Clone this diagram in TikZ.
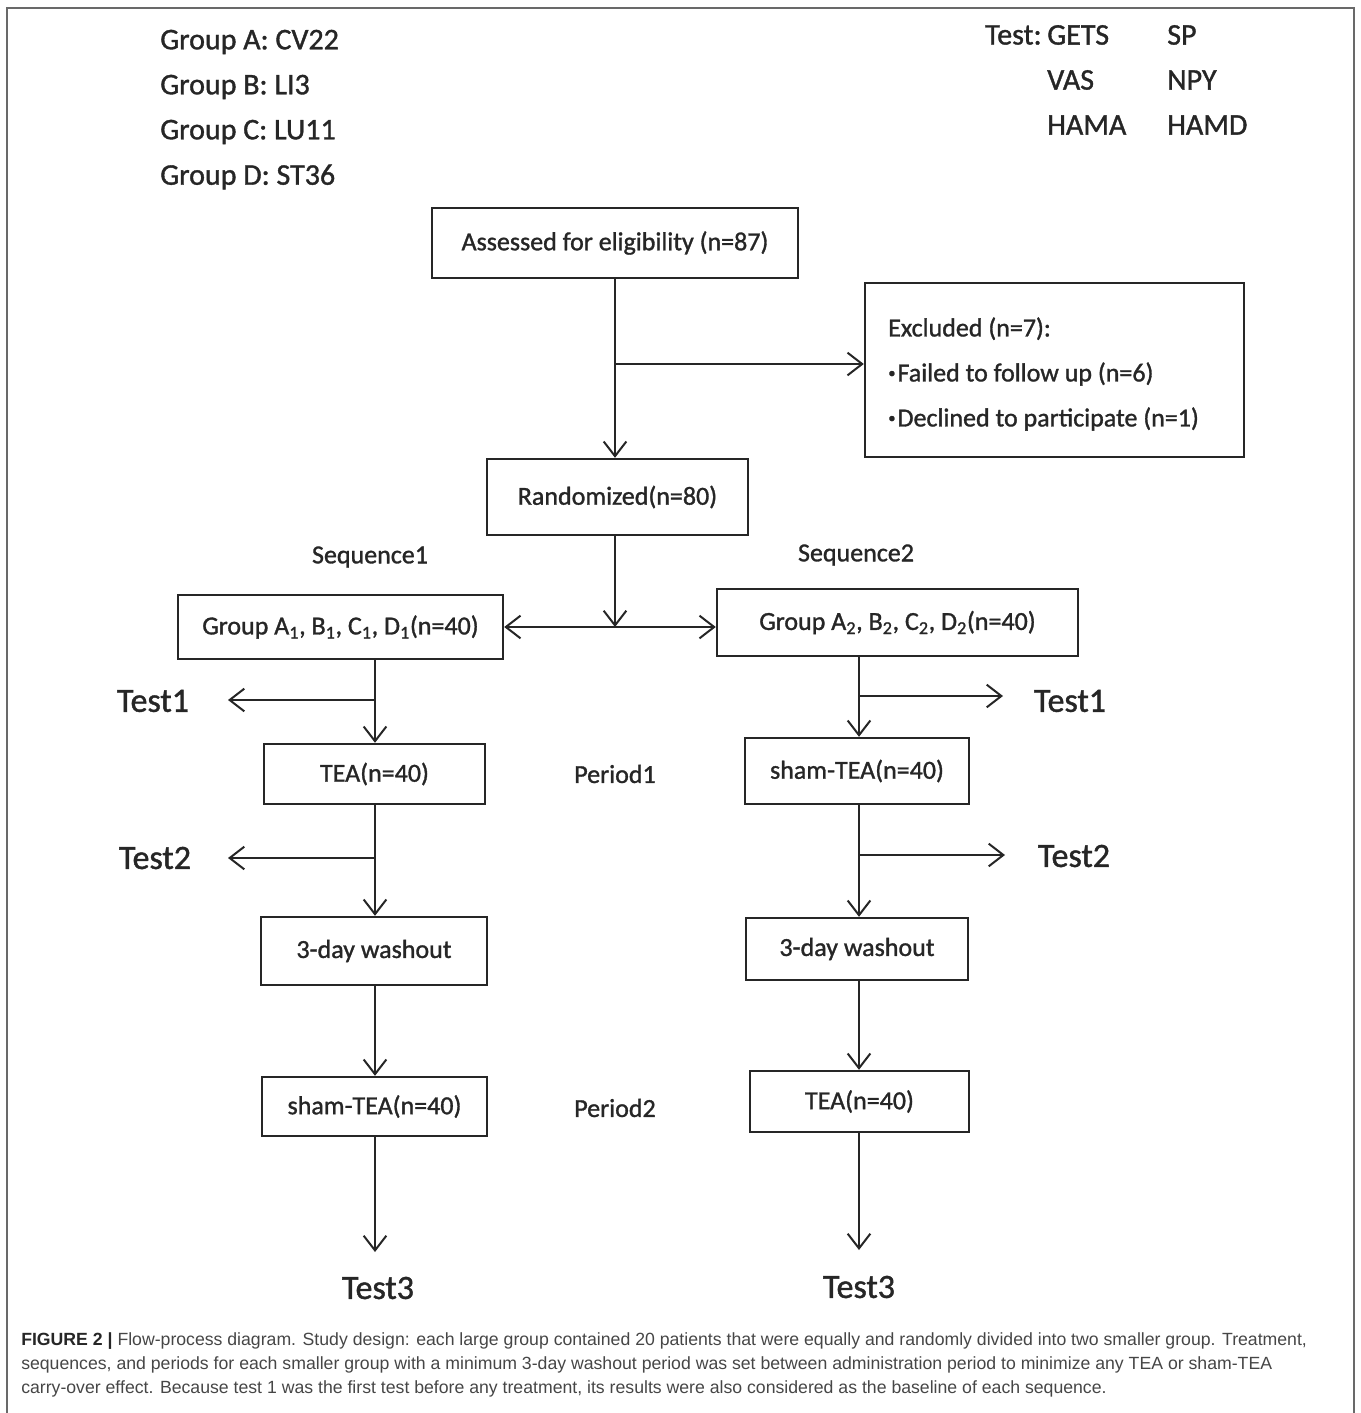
\documentclass[tikz,border=0pt]{standalone}
\usepackage{fontspec}
\setmainfont{Carlito}[FakeBold=1.2]
\newfontfamily\capfont{Liberation Sans}
\usetikzlibrary{arrows.meta, positioning, calc}
\definecolor{inkgray}{RGB}{38,38,38}
\definecolor{framegray}{RGB}{105,105,105}
\definecolor{capgray}{RGB}{70,70,70}
\newcommand{\dotmark}{\raisebox{.3ex}{\fontsize{11}{11}\selectfont\textbullet}\hspace{1.5pt}}

\begin{document}
\begin{tikzpicture}[
    x=0.75pt, y=-0.75pt,
    boxnode/.style={rectangle, draw=inkgray, line width=1.8pt, inner sep=0pt, align=center, text=inkgray, font=\fontsize{19.5}{23}\selectfont},
    lbl/.style={inner sep=0pt, text=inkgray, font=\fontsize{19.5}{23}\selectfont},
    toplbl/.style={inner sep=0pt, anchor=west, text=inkgray, font=\fontsize{22.5}{27}\selectfont},
    testlbl/.style={inner sep=0pt, text=inkgray, font=\fontsize{25.5}{30}\selectfont},
    arrow/.style={-{Straight Barb[length=11pt, width=17pt]}, line width=1.5pt, draw=inkgray},
    twoway/.style={{Straight Barb[length=11pt, width=17pt]}-{Straight Barb[length=11pt, width=17pt]}, line width=1.5pt, draw=inkgray},
    plain/.style={line width=1.5pt, draw=inkgray}
]
\useasboundingbox (0,0) rectangle (1360,1413);

% frame
\draw[framegray, line width=1.5pt] (7,1413) -- (7,8) -- (1354,8) -- (1354,1413);

% legends
\node[toplbl] (ga) at (160,42) {Group A: CV22};
\node[toplbl] (gb) at (160,87) {Group B: LI3};
\node[toplbl] (gc) at (160,132) {Group C: LU11};
\node[toplbl] (gd) at (160,177) {Group D: ST36};

\node[toplbl] (tst) at (985,35) {Test:};
\node[toplbl] (gets) at (1047,35) {GETS};
\node[toplbl] (sp) at (1167,35) {SP};
\node[toplbl] (vas) at (1047,80) {VAS};
\node[toplbl] (npy) at (1167,80) {NPY};
\node[toplbl] (hama) at (1047,125) {HAMA};
\node[toplbl] (hamd) at (1167,125) {HAMD};

% boxes
\node[boxnode, minimum width=274.5pt, minimum height=52.5pt] (assess) at (615,243) {Assessed for eligibility (n=87)};
\node[boxnode, minimum width=284.25pt, minimum height=130.5pt] (excl) at (1054.5,370) {};
\node[lbl, anchor=west, align=left, font=\fontsize{19.5}{33.75}\selectfont] (excltxt) at (888,374)
      {Excluded (n=7):\\ \dotmark Failed to follow up (n=6)\\ \dotmark Declined to participate (n=1)};
\node[boxnode, minimum width=195.75pt, minimum height=57pt] (rnd) at (617.5,497) {Randomized(n=80)};

\node[lbl] (seq1) at (370,557) {Sequence1};
\node[lbl] (seq2) at (856,555) {Sequence2};

\node[boxnode, minimum width=243.75pt, minimum height=48pt] (grp1) at (340.5,627)
      {Group A\textsubscript{1}, B\textsubscript{1}, C\textsubscript{1}, D\textsubscript{1}(n=40)};
\node[boxnode, minimum width=270.75pt, minimum height=50.25pt] (grp2) at (897.5,622.5)
      {Group A\textsubscript{2}, B\textsubscript{2}, C\textsubscript{2}, D\textsubscript{2}(n=40)};

\node[boxnode, minimum width=165.75pt, minimum height=45pt] (tea1) at (374.5,774) {TEA(n=40)};
\node[boxnode, minimum width=169.5pt, minimum height=51pt] (wash1) at (374,951) {3-day washout};
\node[boxnode, minimum width=168.75pt, minimum height=44.25pt] (sham1) at (374.5,1106.5) {sham-TEA(n=40)};

\node[boxnode, minimum width=168pt, minimum height=49.5pt] (sham2) at (857,771) {sham-TEA(n=40)};
\node[boxnode, minimum width=166.5pt, minimum height=46.5pt] (wash2) at (857,949) {3-day washout};
\node[boxnode, minimum width=164.25pt, minimum height=45.75pt] (tea2) at (859.5,1101.5) {TEA(n=40)};

\node[lbl] (per1) at (615,774) {Period1};
\node[lbl] (per2) at (615,1108) {Period2};

% test labels
\node[testlbl] (t1a) at (153,701) {Test1};
\node[testlbl] (t2a) at (155,858) {Test2};
\node[testlbl] (t3a) at (378,1288) {Test3};
\node[testlbl] (t1b) at (1070,701) {Test1};
\node[testlbl] (t2b) at (1074,856) {Test2};
\node[testlbl] (t3b) at (859,1287) {Test3};

% branch points and free ends
\coordinate (jx) at (615,364);
\coordinate (jr) at (615,627);
\coordinate (j1a) at (375,700);
\coordinate (j2a) at (375,858);
\coordinate (j1b) at (859,696);
\coordinate (j2b) at (859,855);
\coordinate (e1a) at (228,700);
\coordinate (e2a) at (228,858);
\coordinate (e1b) at (1003,696);
\coordinate (e2b) at (1005,855);
\coordinate (e3a) at (375,1252);
\coordinate (e3b) at (859,1250);

% connectors
\draw[arrow] (assess.south) -- (rnd.north -| assess.south);
\draw[arrow] (jx) -- (jx -| excl.west);
\draw[arrow] (rnd.south -| jr) -- (jr);
\draw[twoway] (grp1.east) -- (grp1.east -| grp2.west);

\draw[arrow] (grp1.south -| j1a) -- (tea1.north -| j1a);
\draw[arrow] (j1a) -- (e1a);
\draw[arrow] (tea1.south -| j2a) -- (wash1.north -| j2a);
\draw[arrow] (j2a) -- (e2a);
\draw[arrow] (wash1.south -| j2a) -- (sham1.north -| j2a);
\draw[arrow] (sham1.south -| e3a) -- (e3a);

\draw[arrow] (grp2.south -| j1b) -- (sham2.north -| j1b);
\draw[arrow] (j1b) -- (e1b);
\draw[arrow] (sham2.south -| j2b) -- (wash2.north -| j2b);
\draw[arrow] (j2b) -- (e2b);
\draw[arrow] (wash2.south -| j2b) -- (tea2.north -| j2b);
\draw[arrow] (tea2.south -| e3b) -- (e3b);

% caption
\node[anchor=north west, inner sep=0pt, align=left, text=capgray,
      font=\capfont\fontsize{13.25}{18}\selectfont] (cap) at (21,1332)
{\textbf{\color{inkgray}FIGURE 2 |} Flow-process diagram. Study design: each large group contained 20 patients that were equally and randomly divided into two smaller group. Treatment,\\
sequences, and periods for each smaller group with a minimum 3-day washout period was set between administration period to minimize any TEA or sham-TEA\\
carry-over effect. Because test 1 was the first test before any treatment, its results were also considered as the baseline of each sequence.};

\end{tikzpicture}
\end{document}
